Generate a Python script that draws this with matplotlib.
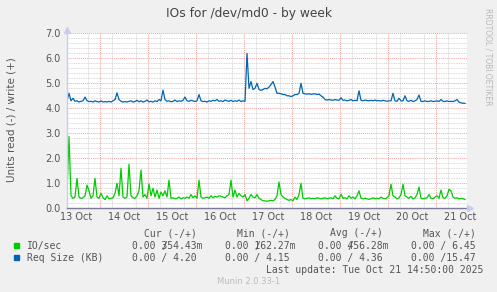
import matplotlib
matplotlib.use("Agg")
import matplotlib.pyplot as plt
import numpy as np

# hourly samples, first one at 13 Oct 07:30, hours counted from 13 Oct 00:00
start_hour = 7.5

io_sec = [
    0.55, 2.87, 0.50, 0.40, 0.45, 1.20, 0.45, 0.40, 0.42, 0.50, 0.93, 0.70,
    0.40, 0.50, 1.20, 0.45, 0.40, 0.60, 0.42, 0.35, 0.50, 0.38, 0.40, 0.42,
    0.60, 1.00, 0.50, 1.60, 0.45, 0.40, 0.45, 1.76, 0.50, 0.42, 0.40, 0.50,
    0.70, 1.53, 0.45, 0.55, 0.40, 0.97, 0.50, 0.80, 0.45, 0.73, 0.40, 0.65,
    0.50, 0.70, 0.45, 1.13, 0.40, 0.42, 0.38, 0.40, 0.45, 0.38, 0.42, 0.40,
    0.45, 0.40, 0.55, 0.42, 0.50, 0.40, 1.13, 0.45, 0.40, 0.42, 0.45, 0.40,
    0.50, 0.42, 0.48, 0.45, 0.50, 0.48, 0.45, 0.42, 0.50, 0.55, 1.13, 0.45,
    0.73, 0.45, 0.60, 0.50, 0.45, 0.55, 0.30, 0.40, 0.55, 0.45, 0.42, 0.55,
    0.40, 0.35, 0.30, 0.30, 0.28, 0.30, 0.32, 0.30, 0.35, 0.50, 1.05, 0.55,
    0.45, 0.40, 0.35, 0.32, 0.35, 0.30, 0.45, 0.35, 0.55, 1.00, 0.40, 0.38,
    0.40, 0.42, 0.38, 0.40, 0.38, 0.42, 0.40, 0.38, 0.40, 0.42, 0.38, 0.40,
    0.42, 0.38, 0.50, 0.40, 0.38, 0.56, 0.40, 0.42, 0.38, 0.50, 0.40, 0.45,
    0.38, 0.50, 0.70, 0.40, 0.38, 0.40, 0.38, 0.36, 0.38, 0.42, 0.38, 0.40,
    0.38, 0.45, 0.40, 0.38, 0.42, 0.50, 0.96, 0.50, 0.45, 0.38, 0.42, 0.55,
    0.96, 0.50, 0.45, 0.40, 0.48, 0.38, 0.42, 0.55, 0.85, 0.40, 0.38, 0.40,
    0.42, 0.55, 0.40, 0.38, 0.45, 0.50, 0.40, 0.73, 0.42, 0.40, 0.50, 0.76,
    0.70, 0.45, 0.40, 0.42, 0.38, 0.40, 0.38, 0.35,
]

req_size = [
    4.30, 4.60, 4.30, 4.40, 4.28, 4.30, 4.25, 4.28, 4.30, 4.45, 4.30, 4.27,
    4.28, 4.25, 4.30, 4.27, 4.25, 4.30, 4.25, 4.27, 4.25, 4.28, 4.25, 4.30,
    4.35, 4.62, 4.35, 4.28, 4.25, 4.27, 4.25, 4.28, 4.30, 4.25, 4.27, 4.32,
    4.26, 4.30, 4.25, 4.28, 4.33, 4.26, 4.28, 4.25, 4.30, 4.27, 4.35, 4.30,
    4.73, 4.35, 4.28, 4.30, 4.26, 4.28, 4.33, 4.27, 4.30, 4.28, 4.32, 4.45,
    4.30, 4.28, 4.32, 4.30, 4.27, 4.30, 4.55, 4.30, 4.27, 4.28, 4.25, 4.30,
    4.28, 4.32, 4.30, 4.35, 4.28, 4.30, 4.27, 4.33, 4.30, 4.28, 4.32, 4.27,
    4.30, 4.28, 4.33, 4.27, 4.30, 4.28, 6.20, 4.80, 5.07, 4.75, 4.80, 5.00,
    4.75, 4.72, 4.75, 4.80, 4.78, 4.85, 4.95, 5.07, 4.85, 4.60, 4.60, 4.58,
    4.55, 4.55, 4.50, 4.50, 4.47, 4.50, 4.55, 4.55, 4.60, 5.00, 4.60, 4.58,
    4.57, 4.58, 4.56, 4.57, 4.58, 4.55, 4.57, 4.50, 4.45, 4.35, 4.33, 4.35,
    4.33, 4.32, 4.35, 4.33, 4.32, 4.42, 4.32, 4.33, 4.30, 4.32, 4.35, 4.30,
    4.32, 4.30, 4.70, 4.32, 4.30, 4.33, 4.31, 4.30, 4.32, 4.30, 4.33, 4.30,
    4.31, 4.29, 4.32, 4.30, 4.28, 4.30, 4.30, 4.60, 4.30, 4.28, 4.40, 4.30,
    4.30, 4.50, 4.30, 4.28, 4.32, 4.27, 4.30, 4.35, 4.53, 4.28, 4.27, 4.30,
    4.27, 4.28, 4.30, 4.27, 4.28, 4.30, 4.27, 4.35, 4.28, 4.27, 4.30, 4.27,
    4.28, 4.27, 4.30, 4.35, 4.25, 4.22, 4.20, 4.20,
]

day_labels = ["13 Oct", "14 Oct", "15 Oct", "16 Oct", "17 Oct",
              "18 Oct", "19 Oct", "20 Oct", "21 Oct"]
y_labels = ["0.0", "1.0", "2.0", "3.0", "4.0", "5.0", "6.0", "7.0"]

legend_names = ["IO/sec", "Req Size (KB)"]
legend_colors = ["#00CC00", "#0066B3"]
col_heads = ["Cur (-/+)", "Min (-/+)", "Avg (-/+)", "Max (-/+)"]
# (value before the slash, value after the slash)
stats = [
    [("0.00", "354.43m"), ("0.00", "162.27m"), ("0.00", "456.28m"), ("0.00", " 6.45")],
    [("0.00", " 4.20"), ("0.00", " 4.15"), ("0.00", " 4.36"), ("0.00", "15.47")],
]

W, H = 497, 292
BG = "#F0F0F0"
TXT = "#555555"

fig = plt.figure(figsize=(W / 100, H / 100), dpi=100, facecolor=BG)
ax = fig.add_axes([67 / W, (H - 208.3) / H, 400 / W, 175 / H])
ax.set_facecolor("white")

hours = start_hour + np.arange(len(io_sec))
x0, x1 = 7.5, 207.5
ax.set_xlim(x0, x1)
ax.set_ylim(0, 7.0)

# grids: gray every 6h / 0.2, red every day / 1.0
six = [h for h in range(12, 208, 6) if h % 24 != 0]
ax.set_xticks(six, minor=True)
ax.set_yticks(np.arange(0.2, 7.0, 0.2), minor=True)
ax.grid(which="minor", color="#CCCCCC", linestyle=(0, (1, 1)), linewidth=0.6)
for d in range(24, 200, 24):
    ax.axvline(d, color="#F7A0A0", linestyle=(0, (1, 1)), linewidth=0.7, zorder=1)
for v in range(1, 8):
    ax.axhline(v, color="#F7A0A0", linestyle=(0, (1, 1)), linewidth=0.7, zorder=1)

ax.set_xticks([12 + 24 * i for i in range(len(day_labels))], day_labels)
ax.set_yticks(range(len(y_labels)), y_labels)
ax.tick_params(which="both", length=0, colors=TXT, labelsize=7)
ax.tick_params(axis="y", pad=4.5)
ax.tick_params(axis="x", pad=3)
for s in ax.spines.values():
    s.set_visible(False)

ax.plot(hours, req_size, color=legend_colors[1], linewidth=0.9, zorder=3)
ax.plot(hours, io_sec, color=legend_colors[0], linewidth=0.9, zorder=3)

# axes with arrows
ax.plot([x0, x0], [0, 7.0], color="#C8CCF0", linewidth=1, clip_on=False, zorder=4)
ax.plot([x0, x1], [0, 0], color="#7A7A9A", linewidth=1, clip_on=False, zorder=4)
ax.plot([x0], [7.15], marker="^", color="#C8CCF0", markersize=5, clip_on=False, zorder=4)
ax.plot([x1 + 1.3], [0], marker=">", color="#C8CCF0", markersize=5, clip_on=False, zorder=4)


def put(x, y, s, **kw):
    fig.text(x / W, 1 - y / H, s, **kw)


put(248.5, 13, "IOs for /dev/md0 - by week", ha="center", va="center",
    fontsize=8.8, color="#444444")
put(12, 120, "Units read (-) / write (+)", ha="center", va="center",
    rotation=90, fontsize=7.5, color=TXT)
put(488, 57, "RRDTOOL / TOBI OETIKER", ha="center", va="center",
    rotation=270, fontsize=5.5, color="#B8B8B8")

mono = dict(family="DejaVu Sans Mono", fontsize=7, color=TXT, va="center")
col_x = [132, 225, 318, 411]
cw = 5.9
for cx, head in zip(col_x, col_heads):
    put(cx + 65 - len(head) * cw, 233, head, ha="left", **mono)

for r, (name, color) in enumerate(zip(legend_names, legend_colors)):
    y = 245.7 + r * 12
    fig.patches.append(plt.Rectangle((14 / W, 1 - (y + 2.5) / H), 5 / W, 5 / H,
                                     transform=fig.transFigure, color=color))
    put(27, y, name, ha="left", **mono)
    for cx, (a, b) in zip(col_x, stats[r]):
        if len(b) > 5:
            # rrdtool overprints the slash on the first digit here
            put(cx, y, a + " " + b, ha="left", **mono)
            put(cx + 5 * cw, y, "/", ha="left", **mono)
        else:
            put(cx, y, a + " /" + b, ha="left", **mono)

put(483, 270, "Last update: Tue Oct 21 14:50:00 2025", ha="right", **mono)
put(249, 281, "Munin 2.0.33-1", ha="center", va="center", fontsize=6, color="#BBBBBB")

fig.savefig("out.png", dpi=100, facecolor=BG)
